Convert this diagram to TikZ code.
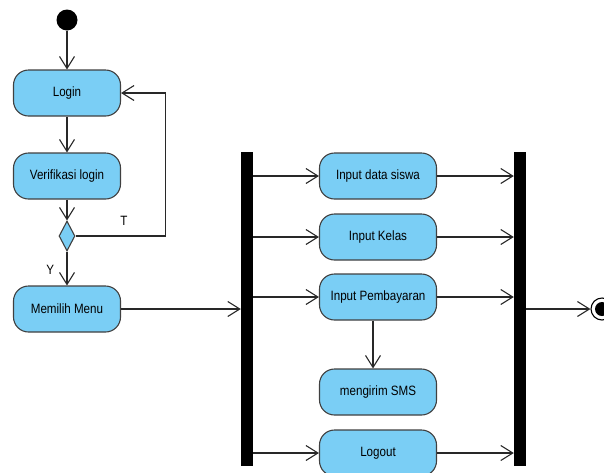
\documentclass[tikz,border=0pt]{standalone}
\usepackage{fontspec}
\setmainfont{Liberation Sans}[FakeStretch=0.86]
\usetikzlibrary{arrows.meta,shapes.geometric,positioning}

\definecolor{actfill}{RGB}{122,206,245}
\definecolor{actline}{RGB}{64,64,64}
\definecolor{flowline}{RGB}{40,40,40}

\tikzset{
  act/.style={draw=actline, fill=actfill, rounded corners=15pt, line width=1.1pt,
    minimum height=46pt, inner sep=0pt, font=\fontsize{13.5}{16}\selectfont},
  actleft/.style={act, minimum width=107pt},
  actright/.style={act, minimum width=117pt},
  decision/.style={diamond, draw=actline, fill=actfill, line width=1.1pt,
    minimum width=16pt, minimum height=30pt, inner sep=0pt, aspect=0.5},
  syncbar/.style={rectangle, fill=black, minimum width=12pt, minimum height=314pt, inner sep=0pt},
  flow/.style={draw=flowline, line width=1.1pt, -{Straight Barb[length=12pt,width=15pt,line width=1.1pt]}},
  lbl/.style={font=\fontsize{13.5}{16}\selectfont}
}

\begin{document}
\begin{tikzpicture}[x=1pt, y=-1pt]
  \useasboundingbox (0,0) rectangle (604,472);

  % Awal dan login
  \node[circle, fill=black, minimum size=21pt, inner sep=0pt] (start) at (67,20) {};
  \node[actleft] (login) at (67,93) {Login};
  \node[actleft] (verif) at (67,176) {Verifikasi login};
  \node[decision] (cek) at (67,236) {};
  \node[actleft] (menu) at (67,309) {Memilih Menu};

  \draw[flow] (start) -- (login);
  \draw[flow] (login) -- (verif);
  \draw[flow] (verif) -- (cek);
  \draw[flow] (cek) -- node[lbl, pos=0.55, left=9pt] {Y} (menu);
  \draw[flow] (cek.east) -- ++(90,0) |- (login.east);
  \node[lbl] (tlabel) at (124,221) {T};

  % Fork dan join
  \node[syncbar] (fork) at (247,309) {};
  \node[syncbar] (join) at (520,309) {};

  % Aktivitas menu
  \node[actright] (siswa) at (378,176) {Input data siswa};
  \node[actright] (kelas) at (378,237) {Input Kelas};
  \node[actright] (bayar) at (378,297) {Input Pembayaran};
  \node[actright] (sms) at (378,392) {mengirim SMS};
  \node[actright] (logout) at (378,453) {Logout};

  \draw[flow] (menu.east) -- (fork.west |- menu.east);
  \foreach \n in {siswa,kelas,bayar,logout} {
    \draw[flow] (fork.east |- \n.west) -- (\n.west);
    \draw[flow] (\n.east) -- (join.west |- \n.east);
  }
  \draw[flow] ([xshift=-5pt]bayar.south) -- ([xshift=-5pt]sms.north);

  % Akhir
  \node[circle, draw=black, fill=white, line width=1.1pt, minimum size=22pt, inner sep=0pt] (akhir) at (602,309) {};
  \node[circle, fill=black, minimum size=14pt, inner sep=0pt] (akhirdot) at (akhir) {};
  \draw[flow] (join.east |- akhir.west) -- (akhir.west);
\end{tikzpicture}
\end{document}
